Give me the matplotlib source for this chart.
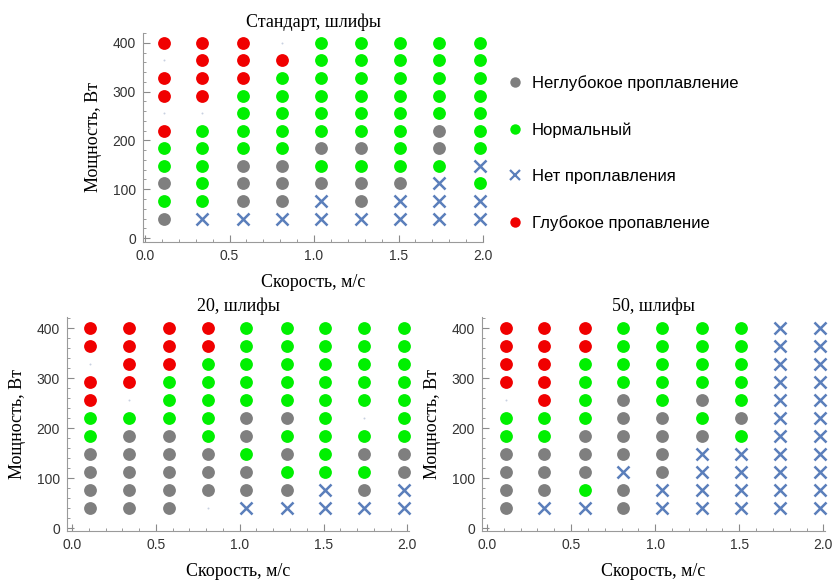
import matplotlib.pyplot as plt
from matplotlib.ticker import MultipleLocator
from matplotlib.lines import Line2D

# скорость (м/с) по столбцам и мощность (Вт) по строкам, сверху вниз
speed = [0.11, 0.34, 0.58, 0.81, 1.04, 1.28, 1.51, 1.74, 1.98]
power = [400, 364, 328, 292, 256, 220, 184, 148, 112, 76, 40]

# N - неглубокое, G - нормальный, X - нет проплавления, R - глубокое, . - пусто
standard = [
    "RRR.GGGGG",
    ".RRRGGGGG",
    "RRRGGGGGG",
    "RRGGGGGGG",
    "..GGGGGGG",
    "RGGGGGGNG",
    "GGGGNNGNG",
    "GGNNGGGGX",
    "NGNNNNNXG",
    "GGNNXNXXX",
    "NXXXXXXXX",
]
grind20 = [
    "RRRRGGGGG",
    "RRRRGGGGG",
    ".RRGGGGGG",
    "RRGGGGGGG",
    "R.GGGGGGG",
    "GGGGNNG.G",
    "GNNGNGGGG",
    "NNNNGNGNN",
    "NNNNNGGGN",
    "NNNNNNXNX",
    "NNN.XXXXX",
]
grind50 = [
    "RRRGGGGXX",
    "RRRGGGGXX",
    "RRGGGGGXX",
    "RRGGGGGXX",
    ".RGNGNGXX",
    "GGGNNGNXX",
    "GGNNNNGXX",
    "NNNNNXXXX",
    "NNNXNXXXX",
    "NNGNXXXXX",
    "NXXNXXXXX",
]

titles = ["Стандарт, шлифы", "20, шлифы", "50, шлифы"]
labels = {"N": "Неглубокое проплавление", "G": "Нормальный",
          "X": "Нет проплавления", "R": "Глубокое пропавление"}

serif = "Liberation Serif"
sans = "Liberation Sans"

styles = {
    "N": dict(marker="o", color="#7f7f7f", s=85, linewidths=0),
    "G": dict(marker="o", color="#00f000", s=85, linewidths=0),
    "R": dict(marker="o", color="#f00000", s=85, linewidths=0),
    "X": dict(marker="x", color="#5b7fbb", s=75, linewidths=1.8),
    ".": dict(marker="o", color="#c8d0e0", s=2, linewidths=0),
}

fig = plt.figure(figsize=(8.34, 5.83), dpi=100)

# положение осей в пикселях: left, right, top, bottom
boxes = [(143, 483, 33, 242), (67, 409, 317, 531), (482, 825, 317, 531)]
xlims = [(-0.012, 2.0), (-0.03, 2.01), (-0.03, 2.01)]
ylims = [(-8, 420), (-6, 422), (-6, 422)]

for grid, title, box, xl, yl in zip([standard, grind20, grind50], titles, boxes, xlims, ylims):
    l, r, t, b = box
    ax = fig.add_axes([l / 834, 1 - b / 583, (r - l) / 834, (b - t) / 583])
    for code in ".NGXR":
        xs, ys = [], []
        for i, row in enumerate(grid):
            for j, c in enumerate(row):
                if c == code:
                    xs.append(speed[j])
                    ys.append(power[i])
        ax.scatter(xs, ys, clip_on=False, zorder=3, **styles[code])
    ax.set_xlim(*xl)
    ax.set_ylim(*yl)
    for s in ["top", "right"]:
        ax.spines[s].set_visible(False)
    for s in ["left", "bottom"]:
        ax.spines[s].set_color("#9a9a9a")
    ax.xaxis.set_major_locator(MultipleLocator(0.5))
    ax.xaxis.set_minor_locator(MultipleLocator(0.1))
    ax.yaxis.set_major_locator(MultipleLocator(100))
    ax.yaxis.set_minor_locator(MultipleLocator(20))
    ax.xaxis.set_major_formatter(lambda v, p: f"{v:.1f}")
    ax.tick_params(which="major", direction="in", length=5, color="#8a8a8a",
                   labelsize=10, labelcolor="#333333", pad=5)
    ax.tick_params(which="minor", direction="in", length=2.5, color="#8a8a8a")
    for lab in ax.get_xticklabels() + ax.get_yticklabels():
        lab.set_family(sans)
    ax.set_title(title, family=serif, fontsize=13, pad=4)
    ax.set_xlabel("Скорость, м/с", family=serif, fontsize=13, labelpad=8)
    ax.set_ylabel("Мощность, Вт", family=serif, fontsize=13, labelpad=8)

handles = []
for code in "NGXR":
    st = styles[code]
    handles.append(Line2D([], [], linestyle="none", marker=st["marker"], color=st["color"],
                          markersize=7.5,
                          markeredgewidth=1.6 if code == "X" else 0))
fig.legend(handles, [labels[c] for c in "NGXR"], loc="upper left",
           bbox_to_anchor=(492 / 834, 1 - 60 / 583), frameon=False,
           prop={"family": sans, "size": 12}, labelspacing=1.88,
           handlelength=1.0, handletextpad=0.5)

fig.savefig("out.png", dpi=100)
